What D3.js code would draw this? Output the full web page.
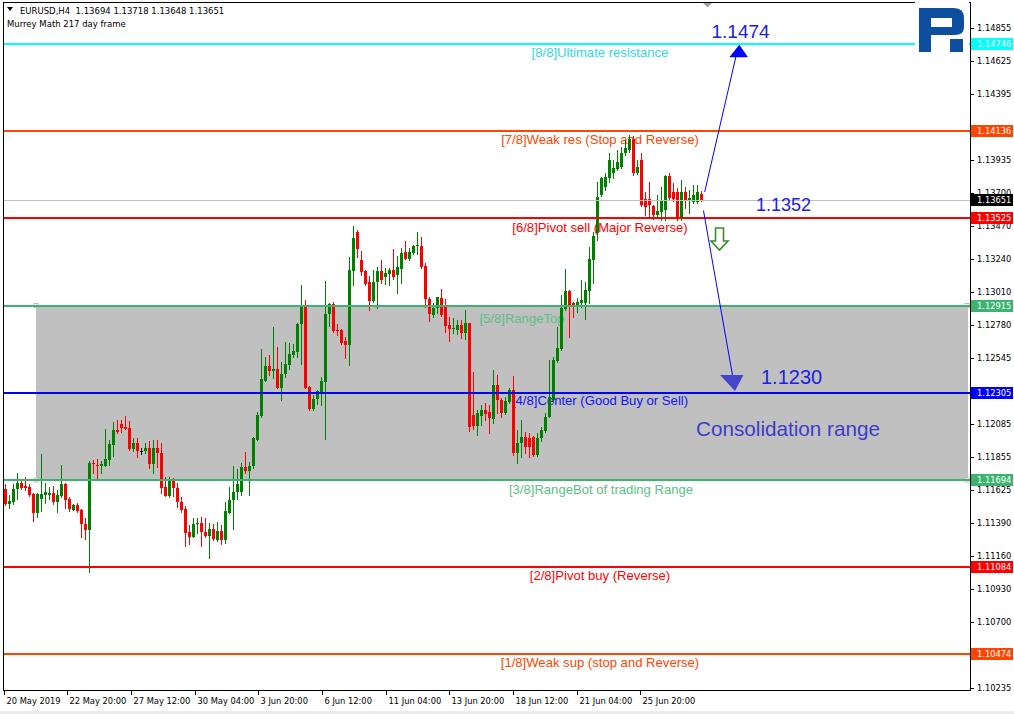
<!DOCTYPE html>
<html><head><meta charset="utf-8">
<script src="https://cdn.jsdelivr.net/npm/d3@7"></script>
<style>html,body{margin:0;padding:0;background:#fff;overflow:hidden}svg{display:block}</style>
</head><body><svg id="c" width="1014" height="714"></svg>
<script>
// ---------------- DATA ----------------
const symbol = "EURUSD,H4";
const indicatorName = "Murrey Math 217 day frame";
const opens = [1.11631,1.11526,1.11540,1.11631,1.11673,1.11652,1.11645,1.11596,1.11463,1.11561,
1.11589,1.11589,1.11603,1.11540,1.11582,1.11666,1.11561,1.11484,1.11519,1.11484,
1.11386,1.11344,1.11813,1.11799,1.11792,1.11792,1.11834,1.11939,1.12044,1.12086,
1.12065,1.12058,1.11911,1.11953,1.11897,1.11897,1.11918,1.11806,1.11918,1.11883,
1.11645,1.11582,1.11694,1.11638,1.11540,1.11491,1.11330,1.11295,1.11386,1.11393,
1.11330,1.11302,1.11351,1.11274,1.11337,1.11274,1.11463,1.11554,1.11610,1.11610,
1.11785,1.11757,1.11792,1.11974,1.12142,1.12387,1.12492,1.12457,1.12471,1.12338,
1.12436,1.12499,1.12569,1.12590,1.12786,1.12905,1.12345,1.12191,1.12261,1.12310,
1.12380,1.12856,1.12926,1.12744,1.12744,1.12667,1.12639,1.13157,1.13430,1.13234,
1.13157,1.13080,1.12947,1.13080,1.13157,1.13115,1.13136,1.13164,1.13129,1.13171,
1.13290,1.13241,1.13283,1.13332,1.13332,1.13192,1.12961,1.12849,1.12898,1.12968,
1.12905,1.12779,1.12751,1.12744,1.12779,1.12723,1.12793,1.12149,1.12072,1.12142,
1.12184,1.12170,1.12121,1.12359,1.12254,1.12163,1.12240,1.12324,1.11883,1.11953,
1.11995,1.11988,1.11995,1.11869,1.11988,1.12037,1.12135,1.12254,1.12527,1.12611,
1.12891,1.13017,1.12933,1.12919,1.12933,1.12933,1.13017,1.13234,1.13423,1.13689,
1.13745,1.13808,1.13843,1.13871,1.13885,1.13983,1.14004,1.14081,1.13843,1.13934,
1.13661,1.13661,1.13612,1.13549,1.13570,1.13584,1.13822,1.13710,1.13710,1.13521,
1.13710,1.13654,1.13640,1.13640,1.13694];
const highs = [1.11666,1.11589,1.11666,1.11743,1.11687,1.11715,1.11666,1.11603,1.11603,1.11876,
1.11673,1.11645,1.11652,1.11624,1.11799,1.11673,1.11575,1.11526,1.11533,1.11491,
1.11428,1.11827,1.11834,1.11841,1.11827,1.12051,1.11974,1.12100,1.12114,1.12114,
1.12142,1.12107,1.11988,1.11988,1.11918,1.11953,1.11967,1.11974,1.11974,1.11953,
1.11715,1.11715,1.11708,1.11673,1.11575,1.11512,1.11379,1.11428,1.11428,1.11435,
1.11428,1.11393,1.11386,1.11400,1.11379,1.11540,1.11645,1.11792,1.11771,1.11813,
1.11890,1.11820,1.11998,1.12170,1.12611,1.12555,1.12569,1.12765,1.12625,1.12520,
1.12660,1.12653,1.12646,1.12793,1.13059,1.12954,1.12352,1.12289,1.12324,1.12415,
1.13087,1.12933,1.12940,1.12786,1.12751,1.12695,1.13255,1.13472,1.13444,1.13297,
1.13164,1.13122,1.13164,1.13185,1.13234,1.13178,1.13178,1.13311,1.13262,1.13318,
1.13367,1.13318,1.13339,1.13430,1.13395,1.13213,1.12975,1.12933,1.12975,1.13031,
1.12961,1.12835,1.12828,1.12814,1.12814,1.12884,1.12793,1.12450,1.12184,1.12219,
1.12233,1.12219,1.12464,1.12429,1.12268,1.12275,1.12338,1.12422,1.12044,1.12114,
1.12030,1.12023,1.12002,1.12023,1.12065,1.12163,1.12534,1.12555,1.12765,1.12989,
1.13171,1.13024,1.12940,1.12968,1.13094,1.13080,1.13325,1.13430,1.13780,1.13815,
1.13843,1.13983,1.13934,1.14004,1.14025,1.14074,1.14109,1.14102,1.13934,1.13983,
1.13710,1.13780,1.13619,1.13689,1.13745,1.13829,1.13843,1.13773,1.13738,1.13794,
1.13745,1.13724,1.13759,1.13759,1.13718];
const lows = [1.11519,1.11498,1.11526,1.11561,1.11631,1.11624,1.11582,1.11407,1.11435,1.11477,
1.11533,1.11561,1.11526,1.11470,1.11575,1.11498,1.11477,1.11484,1.11470,1.11295,
1.11281,1.11050,1.11743,1.11701,1.11743,1.11792,1.11799,1.11862,1.12023,1.12030,
1.12051,1.11904,1.11897,1.11855,1.11876,1.11883,1.11778,1.11743,1.11785,1.11603,
1.11582,1.11575,1.11582,1.11505,1.11470,1.11232,1.11246,1.11295,1.11323,1.11232,
1.11295,1.11148,1.11274,1.11267,1.11246,1.11253,1.11463,1.11351,1.11561,1.11589,
1.11743,1.11589,1.11778,1.11974,1.12135,1.12387,1.12429,1.12408,1.12338,1.12254,
1.12415,1.12471,1.12555,1.12555,1.12506,1.12338,1.12184,1.12184,1.12226,1.12219,
1.11981,1.12772,1.12730,1.12709,1.12646,1.12548,1.12499,1.13059,1.13255,1.13129,
1.13059,1.12884,1.12940,1.12898,1.13073,1.13066,1.13059,1.13101,1.13003,1.13073,
1.13241,1.13234,1.13276,1.13276,1.13178,1.12905,1.12807,1.12835,1.12863,1.12842,
1.12730,1.12667,1.12723,1.12716,1.12688,1.12681,1.12037,1.12051,1.12009,1.12079,
1.12114,1.12023,1.12093,1.12163,1.12135,1.12156,1.12233,1.11869,1.11813,1.11855,
1.11883,1.11855,1.11862,1.11862,1.11967,1.12030,1.12135,1.12240,1.12520,1.12604,
1.12884,1.12695,1.12835,1.12870,1.12905,1.12821,1.12933,1.13073,1.13374,1.13682,
1.13724,1.13780,1.13808,1.13864,1.13878,1.13969,1.13990,1.13829,1.13836,1.13612,
1.13549,1.13535,1.13521,1.13535,1.13514,1.13514,1.13654,1.13647,1.13514,1.13514,
1.13598,1.13563,1.13633,1.13633,1.13648];
const closes = [1.11526,1.11547,1.11631,1.11673,1.11638,1.11638,1.11589,1.11463,1.11596,1.11596,
1.11610,1.11603,1.11540,1.11589,1.11666,1.11554,1.11491,1.11519,1.11477,1.11386,
1.11344,1.11813,1.11806,1.11792,1.11806,1.11841,1.11946,1.12044,1.12030,1.12058,
1.12051,1.11911,1.11953,1.11897,1.11897,1.11918,1.11806,1.11918,1.11883,1.11638,
1.11582,1.11694,1.11638,1.11540,1.11484,1.11323,1.11295,1.11386,1.11393,1.11330,
1.11302,1.11351,1.11281,1.11337,1.11274,1.11477,1.11554,1.11610,1.11666,1.11785,
1.11757,1.11792,1.11988,1.12149,1.12401,1.12492,1.12457,1.12471,1.12338,1.12436,
1.12506,1.12576,1.12597,1.12786,1.12905,1.12338,1.12191,1.12261,1.12317,1.12387,
1.12856,1.12926,1.12737,1.12737,1.12653,1.12639,1.13164,1.13388,1.13311,1.13150,
1.13066,1.12947,1.13080,1.13157,1.13094,1.13143,1.13164,1.13115,1.13185,1.13283,
1.13241,1.13290,1.13332,1.13339,1.13185,1.12961,1.12856,1.12898,1.12975,1.12849,
1.12772,1.12751,1.12758,1.12779,1.12723,1.12793,1.12065,1.12072,1.12163,1.12184,
1.12156,1.12128,1.12359,1.12254,1.12163,1.12247,1.12324,1.11883,1.11953,1.11995,
1.11925,1.11925,1.11869,1.11988,1.12044,1.12135,1.12275,1.12534,1.12618,1.12898,
1.13017,1.12919,1.12912,1.12940,1.12954,1.13024,1.13241,1.13402,1.13675,1.13808,
1.13815,1.13934,1.13878,1.13920,1.13983,1.14018,1.14081,1.13843,1.13885,1.13619,
1.13605,1.13619,1.13549,1.13577,1.13654,1.13822,1.13668,1.13661,1.13521,1.13710,
1.13654,1.13668,1.13689,1.13710,1.13651];
const timeLabels = ["20 May 2019","22 May 20:00","27 May 12:00","30 May 04:00","3 Jun 20:00","6 Jun 12:00","11 Jun 04:00","13 Jun 20:00","18 Jun 12:00","21 Jun 04:00","25 Jun 20:00"];
const timeLabelBars = [0,16,32,48,64,80,96,112,128,144,160];
const priceTicks = ["1.14855","1.14625","1.14395","1.13935","1.13700","1.13470","1.13240","1.13010","1.12780","1.12545","1.12085","1.11855","1.11625","1.11390","1.11160","1.10930","1.10700","1.10235"];
const levels = [1.14746,1.14136,1.13525,1.12915,1.12305,1.11694,1.11084,1.10474];
const levelNames = ["[8/8]Ultimate resistance","[7/8]Weak res (Stop and Reverse)","[6/8]Pivot sell (Major Reverse)","[5/8]RangeTop","[4/8]Center (Good Buy or Sell)","[3/8]RangeBot of trading Range","[2/8]Pivot buy (Reverse)","[1/8]Weak sup (stop and Reverse)"];
const rangeTop = 1.12915, rangeBottom = 1.11694;
const targetNames = ["1.1474","1.1352","1.1230"];
const targetPrices = [1.1474,1.1352,1.1230];
const consolidationText = "Consolidation range";

// ---------------- STYLE / LAYOUT ----------------
const levelColors = ["#00ffff","#ff4500","#ff0000","#3cb371","#0000ff","#3cb371","#ff0000","#ff4500"];
const levelTextColors = ["#33d6e6","#ff4500","#ff0000","#5cbf83","#1010ff","#5cbf83","#ff0000","#ff4500"];
const levelTextX = [600,600,600,522,600,601,600,600];
const levelTextDy = [8,8,9,13,8,9,8,8];
const smallFont = "'DejaVu Sans', sans-serif";
const bigFont = "'Liberation Sans', Arial, sans-serif";
const L = 4, R = 970, T = 2, B = 690;

const svg = d3.select("#c");
svg.append("rect").attr("width",1014).attr("height",714).attr("fill","#fff");
svg.append("rect").attr("x",0).attr("y",711).attr("width",1014).attr("height",3).attr("fill","#ececec");

const x = d3.scaleLinear().domain([0, 174]).range([4.67, 700.67]);
const y = d3.scaleLinear().domain([1.10474, 1.14746]).range([654.3, 44]);

// consolidation rectangle (background)
svg.append("rect").attr("x", 36).attr("y", y(rangeTop)).attr("width", 968-36)
  .attr("height", y(rangeBottom)-y(rangeTop)).attr("fill","#c0c0c0");
[[36,y(rangeTop)],[36,y(rangeBottom)],[967,y(rangeTop)],[967,y(rangeBottom)]].forEach(p=>{
  svg.append("rect").attr("x",p[0]-2).attr("y",p[1]-2).attr("width",4).attr("height",4)
    .attr("fill","#fff").attr("stroke","#b0b0b0").attr("stroke-width",0.8);
});

// level texts
svg.append("g").selectAll("text").data(levels).join("text")
  .attr("x",(d,i)=>levelTextX[i]).attr("y",(d,i)=>y(d)+levelTextDy[i])
  .attr("dy","0.36em").attr("text-anchor","middle")
  .attr("font-family",bigFont).attr("font-size",13.1)
  .attr("fill",(d,i)=>levelTextColors[i]).text((d,i)=>levelNames[i]);

// candles
const candles = d3.range(opens.length).map(i=>({i,o:opens[i],h:highs[i],l:lows[i],c:closes[i]}));
const cg = svg.append("g").attr("shape-rendering","crispEdges");
const col = d=> d.c>d.o ? "#008000" : (d.c<d.o ? "#ff0000" : "#000000");
cg.selectAll("line").data(candles).join("line")
  .attr("x1",d=>Math.round(x(d.i))+0.5).attr("x2",d=>Math.round(x(d.i))+0.5)
  .attr("y1",d=>y(d.h)).attr("y2",d=>y(d.l)+1).attr("stroke",col).attr("stroke-width",1);
cg.selectAll("rect").data(candles).join("rect")
  .attr("x",d=>Math.round(x(d.i))-1).attr("width",3)
  .attr("y",d=>Math.min(y(d.o),y(d.c)))
  .attr("height",d=>Math.max(1,Math.abs(y(d.o)-y(d.c))))
  .attr("fill",col);

// current price line
const last = candles[candles.length-1];
svg.append("line").attr("x1",L).attr("x2",R).attr("y1",Math.round(y(last.c))+0.5).attr("y2",Math.round(y(last.c))+0.5)
  .attr("stroke","#c0c0c0").attr("stroke-width",1);

// level lines
svg.append("g").selectAll("line").data(levels).join("line")
  .attr("x1",L).attr("x2",R).attr("y1",d=>Math.round(y(d))).attr("y2",d=>Math.round(y(d)))
  .attr("stroke",(d,i)=>levelColors[i]).attr("stroke-width",2);

// arrows (trend lines to targets)
const upApexBar = 183.66, downApexBar = 182.58;
svg.append("line").attr("x1",x(175)).attr("y1",y(1.1371)).attr("x2",x(182.8)).attr("y2",y(targetPrices[0])+12)
  .attr("stroke","#0000ff").attr("stroke-width",1);
svg.append("path").attr("d",`M${x(upApexBar)},${y(targetPrices[0])} L${x(upApexBar)+8.7},${y(targetPrices[0])+12.5} L${x(upApexBar)-10},${y(targetPrices[0])+12.5} Z`)
  .attr("fill","#0000ff");
svg.append("line").attr("x1",x(174.7)).attr("y1",y(1.1358)).attr("x2",x(downApexBar)).attr("y2",y(targetPrices[2])-4)
  .attr("stroke","#0000ff").attr("stroke-width",1);
svg.append("path").attr("d",`M${x(downApexBar)},${y(targetPrices[2])-2.5} L${x(downApexBar)+8.5},${y(targetPrices[2])-18.5} L${x(downApexBar)-15},${y(targetPrices[2])-18.5} Z`)
  .attr("fill","#4646c8");

// hollow green down arrow
const ga = {cx:719.5, top:228};
svg.append("path").attr("d",`M${ga.cx-4},${ga.top} H${ga.cx+4} V${ga.top+13} H${ga.cx+8.5} L${ga.cx},${ga.top+22} L${ga.cx-8.5},${ga.top+13} H${ga.cx-4} Z`)
  .attr("fill","#fff").attr("stroke","#3c8c28").attr("stroke-width",1.6);

// target texts
const tPos = [{x:711.5,y:37.7,s:19},{x:756,y:210.7,s:18},{x:761,y:384,s:20}];
svg.append("g").selectAll("text").data(targetNames).join("text")
  .attr("x",(d,i)=>tPos[i].x).attr("y",(d,i)=>tPos[i].y)
  .attr("font-family",bigFont).attr("font-size",(d,i)=>tPos[i].s)
  .attr("fill","#2020e0").text(d=>d);
svg.append("text").attr("x",696).attr("y",436).attr("font-family",bigFont).attr("font-size",20.7)
  .attr("fill","#3c3ccc").text(consolidationText);

// frame
const fg = svg.append("g").attr("shape-rendering","crispEdges");
fg.append("line").attr("x1",3.5).attr("x2",3.5).attr("y1",T).attr("y2",B+1).attr("stroke","#000");
fg.append("line").attr("x1",3).attr("x2",R+1).attr("y1",T+0.5).attr("y2",T+0.5).attr("stroke","#000");
fg.append("line").attr("x1",R+0.5).attr("x2",R+0.5).attr("y1",T).attr("y2",B+1).attr("stroke","#000");
fg.append("line").attr("x1",3).attr("x2",R+1).attr("y1",B+0.5).attr("y2",B+0.5).attr("stroke","#000");

// shift marker
svg.append("path").attr("d","M703,3 L712,3 L707.5,7.5 Z").attr("fill","#a0a0a0");

// right axis ticks
const rg = svg.append("g");
priceTicks.forEach(t=>{
  const yy = Math.round(y(+t))+0.5;
  rg.append("line").attr("x1",R).attr("x2",R+4).attr("y1",yy).attr("y2",yy).attr("stroke","#000").attr("shape-rendering","crispEdges");
  rg.append("text").attr("x",977).attr("y",yy).attr("dy","0.36em").attr("font-family",smallFont)
    .attr("font-size",8.3).attr("fill","#000").text(t);
});
// level price boxes
const boxes = levels.map((v,i)=>({v, c:levelColors[i]})).concat([{v:last.c, c:"#000"}]);
boxes.forEach(b=>{
  const yy = Math.round(y(b.v));
  rg.append("rect").attr("x",R+1).attr("y",yy-6).attr("width",42).attr("height",12).attr("fill",b.c);
  rg.append("text").attr("x",977).attr("y",yy).attr("dy","0.36em").attr("font-family",smallFont)
    .attr("font-size",8.3).attr("fill","#fff").text(b.v.toFixed(5));
});

// bottom axis
const bg = svg.append("g");
timeLabels.forEach((t,i)=>{
  const xx = Math.round(x(timeLabelBars[i]) - timeLabelBars[i]*0.02) - 0.5;
  bg.append("line").attr("x1",xx).attr("x2",xx).attr("y1",B).attr("y2",B+5).attr("stroke","#000").attr("shape-rendering","crispEdges");
  bg.append("text").attr("x",xx+2).attr("y",704).attr("font-family",smallFont).attr("font-size",8.3).attr("fill","#000").text(t);
});

// header
svg.append("path").attr("d","M7,7 L13,7 L10,11 Z").attr("fill","#000");
svg.append("text").attr("x",20).attr("y",13.5).attr("font-family",smallFont).attr("font-size",8.5)
  .attr("fill","#000").style("white-space","pre")
  .text(`${symbol}  ${last.o.toFixed(5)} ${last.h.toFixed(5)} ${last.l.toFixed(5)} ${last.c.toFixed(5)}`);
svg.append("text").attr("x",7).attr("y",27).attr("font-family",smallFont).attr("font-size",8.5)
  .attr("fill","#000").text(indicatorName);

// logo
const lg = svg.append("g");
lg.append("rect").attr("x",915).attr("y",0).attr("width",54).attr("height",57).attr("fill","#fff");
lg.append("path").attr("d","M919,8 H954 Q964,8 964,18 V27 Q964,35 955,35 H931 V52 H919 Z").attr("fill","#0d4f9e");
lg.append("rect").attr("x",931).attr("y",18).attr("width",21).attr("height",9).attr("fill","#fff");
lg.append("rect").attr("x",950).attr("y",39).attr("width",13).attr("height",13).attr("fill","#0d4f9e");
</script></body></html>
